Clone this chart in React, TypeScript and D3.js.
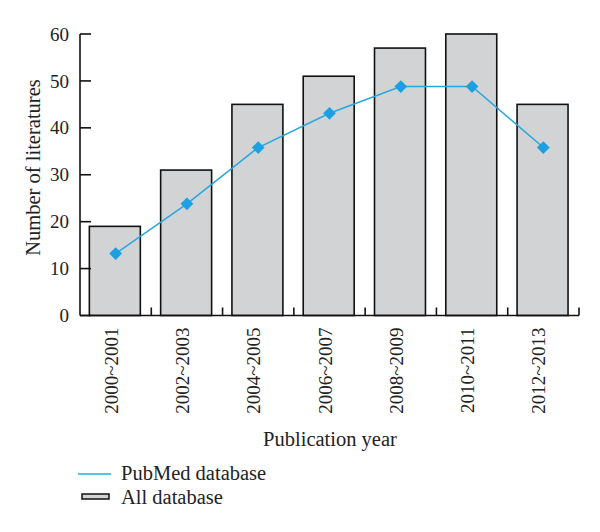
import React from "react";
import * as d3 from "d3";

const categories = ["2000~2001", "2002~2003", "2004~2005", "2006~2007", "2008~2009", "2010~2011", "2012~2013"];
const allDatabase = [19, 31, 45, 51, 57, 60, 45];
const pubmedDatabase = [13.2, 23.8, 35.8, 43.1, 48.8, 48.8, 35.8];
const yTicks = [0, 10, 20, 30, 40, 50, 60];

const W = 600, H = 532;
const left = 80, right = 579, top = 34, bottom = 315.5;
const FONT = "'Liberation Serif', 'DejaVu Serif', serif";
const BLUE = "#27a8df";
const MARK = "#1ba1e2";

export default function App() {
  const x = d3.scaleBand<string>().domain(categories).range([left, right]).paddingInner(0.285).paddingOuter(0.1425);
  const y = d3.scaleLinear().domain([0, 60]).range([bottom, top]);
  const line = d3.line<number>().x((_, i) => (x(categories[i]) as number) + x.bandwidth() / 2).y((d) => y(d));
  const step = x.step();
  const boundaries = categories.map((c) => (x(c) as number) + x.bandwidth() + (step - x.bandwidth()) / 2);

  return (
    <svg width={W} height={H} style={{ position: "absolute", left: 0, top: 0, background: "#fff" }} fontFamily={FONT}>
      {categories.map((c, i) => (
        <rect key={c} x={(x(c) as number) - 0.8} y={y(allDatabase[i])} width={x.bandwidth()} height={bottom - y(allDatabase[i])}
          fill="#d1d3d4" stroke="#111" strokeWidth={1.6} />
      ))}
      {/* y axis */}
      <line x1={left} x2={left} y1={top} y2={bottom} stroke="#111" strokeWidth={1.6} />
      {yTicks.map((t) => (
        <g key={t}>
          <line x1={left} x2={left + 11} y1={y(t)} y2={y(t)} stroke="#111" strokeWidth={1.6} />
          <text x={left - 11} y={y(t)} dy="0.35em" textAnchor="end" fontSize={19} fill="#222">{t}</text>
        </g>
      ))}
      {/* x axis */}
      <line x1={left} x2={right} y1={bottom} y2={bottom} stroke="#111" strokeWidth={1.6} />
      {boundaries.map((b, i) => (
        <line key={i} x1={b} x2={b} y1={bottom} y2={bottom - 8} stroke="#111" strokeWidth={1.6} />
      ))}
      {categories.map((c) => {
        const cx = (x(c) as number) + x.bandwidth() / 2;
        return (
          <text key={c} transform={`translate(${cx + 2},${bottom + 12}) rotate(-90)`} textAnchor="end" fontSize={19} fill="#222">{c}</text>
        );
      })}
      {/* line */}
      <path d={line(pubmedDatabase) || ""} fill="none" stroke={BLUE} strokeWidth={1.5} />
      {pubmedDatabase.map((v, i) => {
        const cx = (x(categories[i]) as number) + x.bandwidth() / 2;
        return <rect key={i} x={cx - 4.5} y={y(v) - 4.5} width={9} height={9} fill={MARK} transform={`rotate(45,${cx},${y(v)})`} />;
      })}
      {/* axis titles */}
      <text x={330} y={446} textAnchor="middle" fontSize={20.5} fill="#222">Publication year</text>
      <text transform={`translate(40,167.5) rotate(-90)`} textAnchor="middle" fontSize={20.5} fill="#222">Number of literatures</text>
      {/* legend */}
      <line x1={78} x2={111} y1={474} y2={474} stroke={BLUE} strokeWidth={1.5} />
      <text x={121} y={480} fontSize={20.5} fill="#222">PubMed database</text>
      <rect x={82} y={494} width={27} height={5} fill="#d1d3d4" stroke="#111" strokeWidth={1.5} />
      <text x={121} y={504} fontSize={20.5} fill="#222">All database</text>
    </svg>
  );
}
